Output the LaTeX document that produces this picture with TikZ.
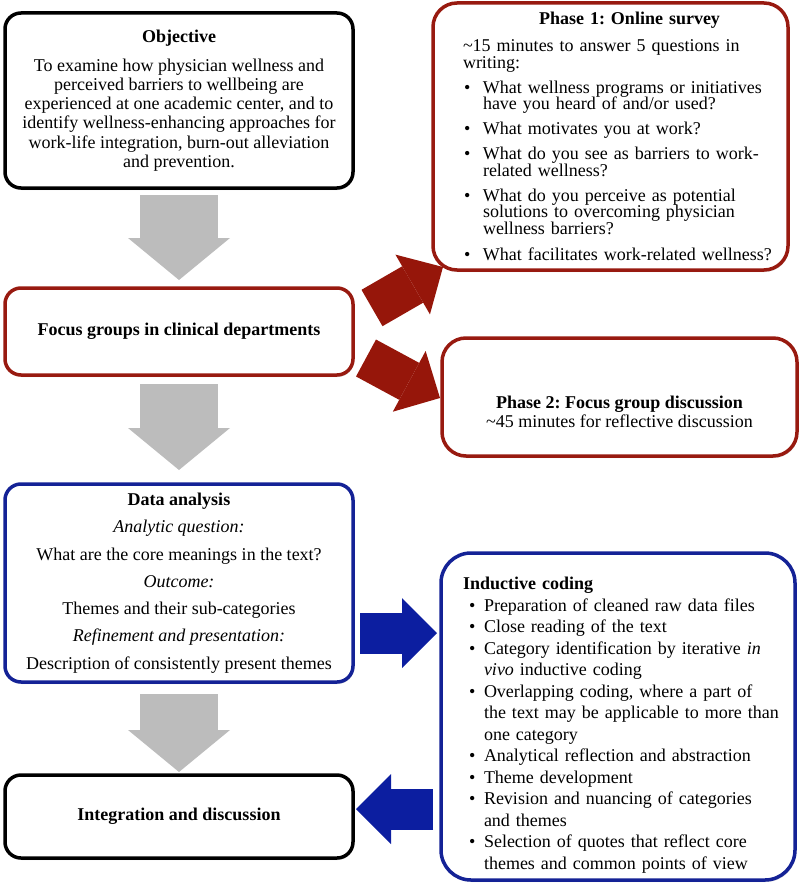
\documentclass[tikz,border=0pt]{standalone}
\usepackage{fontspec}
\setmainfont{Liberation Serif}
\usetikzlibrary{arrows.meta,calc,shadows}
\definecolor{panelred}{RGB}{152,26,16}
\definecolor{panelblue}{RGB}{20,34,150}
\definecolor{arrowred}{RGB}{150,22,10}
\definecolor{arrowblue}{RGB}{12,30,160}
\definecolor{arrowgrey}{RGB}{188,188,188}
\frenchspacing
\newcommand{\objfont}{\fontsize{18}{19.2}\selectfont}
\newcommand{\surveyfont}{\fontsize{18}{16.5}\selectfont\lineskiplimit=-50pt}
\newcommand{\analysisfont}{\fontsize{18}{27.3}\selectfont}
\newcommand{\codingfont}{\fontsize{18}{21.5}\selectfont\lineskiplimit=-50pt}
% bullet line: space before, hang, bullet offset
\newcommand{\qitem}[3]{\par\vspace{#1}\hangindent=#2\hangafter=1\noindent\makebox[#2][l]{\hspace{#3}\textbullet}}
\tikzset{
    panel/.style={draw=#1,line width=3.5pt,rounded corners=16pt,fill=white,inner sep=0pt,outer sep=0pt,
        drop shadow={shadow xshift=1pt,shadow yshift=-2pt,opacity=.25}},
    greyarrow/.style={draw=arrowgrey,line width=78pt,-{Triangle[length=42pt,width=102pt,line width=0pt]}},
    redarrow/.style={draw=arrowred,line width=42pt,-{Triangle[length=35pt,width=69pt,line width=0pt]}},
    bluearrow/.style={draw=arrowblue,line width=41pt,-{Triangle[length=35pt,width=70pt,line width=0pt]}}
}

\begin{document}
\begin{tikzpicture}[x=1pt,y=-1pt]
  \useasboundingbox (0,0) rectangle (799,888);

  % left column
  \node[panel=black,minimum width=348,minimum height=175,align=center,font=\objfont] (obj) at (179,100.5)
    {\textbf{Objective}\\[9.8pt]
     To examine how physician wellness and\\
     perceived barriers to wellbeing are\\
     experienced at one academic center, and to\\
     identify wellness-enhancing approaches for\\
     work-life integration, burn-out alleviation\\
     and prevention.};
  \node[panel=panelred,minimum width=348,minimum height=87,font=\objfont] (focus) at (179,331.5)
    {\textbf{Focus groups in clinical departments}};
  \node[panel=panelblue,minimum width=348,minimum height=198,align=center,font=\analysisfont] (analysis) at (179,583)
    {\textbf{Data analysis}\\
     \textit{Analytic question:}\\
     What are the core meanings in the text?\\
     \textit{Outcome:}\\
     Themes and their sub-categories\\
     \textit{Refinement and presentation:}\\
     Description of consistently present themes};
  \node[panel=black,minimum width=348,minimum height=83,font=\objfont] (integ) at (179,816.5)
    {\textbf{Integration and discussion}};

  % right column
  \node[panel=panelred,rounded corners=24pt,minimum width=355,minimum height=267,text width=340,align=left,font=\surveyfont] (phaseone) at (610.5,136.5)
    {\leftskip=22.5pt
     \hspace*{76pt}\textbf{Phase 1: Online survey}\par\vspace{10.5pt}
     \textasciitilde 15 minutes to answer 5 questions in\newline writing:
     \qitem{8.5pt}{20pt}{1pt}What wellness programs or initiatives\newline have you heard of and/or used?
     \qitem{8.5pt}{20pt}{1pt}What motivates you at work?
     \qitem{8.5pt}{20pt}{1pt}What do you see as barriers to work-\newline related wellness?
     \qitem{8.5pt}{20pt}{1pt}What do you perceive as potential\newline solutions to overcoming physician\newline wellness barriers?
     \qitem{9.5pt}{20pt}{1pt}What facilitates work-related wellness?\par};
  \node[panel=panelred,rounded corners=24pt,minimum width=355,minimum height=118,align=center,font=\objfont] (phasetwo) at (619.5,397)
    {\rule{0pt}{42pt}\textbf{Phase 2: Focus group discussion}\\
     \textasciitilde 45 minutes for reflective discussion};
  \node[panel=panelblue,rounded corners=30pt,minimum width=354,minimum height=327,text width=340,align=left,font=\codingfont] (coding) at (618,716.5)
    {\leftskip=15pt
     \rule{0pt}{30pt}\textbf{Inductive coding}
     \qitem{0pt}{21pt}{6pt}Preparation of cleaned raw data files
     \qitem{0pt}{21pt}{6pt}Close reading of the text
     \qitem{0pt}{21pt}{6pt}Category identification by iterative \textit{in}\newline \textit{vivo} inductive coding
     \qitem{0pt}{21pt}{6pt}Overlapping coding, where a part of\newline the text may be applicable to more than\newline one category
     \qitem{0pt}{21pt}{6pt}Analytical reflection and abstraction
     \qitem{0pt}{21pt}{6pt}Theme development
     \qitem{0pt}{21pt}{6pt}Revision and nuancing of categories\newline and themes
     \qitem{0pt}{21pt}{6pt}Selection of quotes that reflect core\newline themes and common points of view\par};

  % block arrows
  \draw[greyarrow] ($(obj.south)+(0,7)$) -- ($(focus.north)+(0,-8)$);
  \draw[greyarrow] ($(focus.south)+(0,9)$) -- ($(analysis.north)+(0,-14)$);
  \draw[greyarrow] ($(analysis.south)+(0,12)$) -- ($(integ.north)+(0,-3)$);

  \draw[redarrow] ($(focus.east)+(19,-23.5)$) -- ($(phaseone.south west)+(10,-3)$);
  \draw[redarrow] ($(focus.east)+(13,26.5)$) -- ($(phasetwo.west)+(-2,1)$);

  \coordinate (da) at ($(analysis.east)+(7,50)$);
  \coordinate (ic) at ($(coding.west)+(-8,92.5)$);
  \draw[bluearrow,shorten >=4pt] (da) -- (da -| coding.west);
  \draw[bluearrow,shorten >=3pt] (ic) -- (ic -| integ.east);
\end{tikzpicture}
\end{document}
